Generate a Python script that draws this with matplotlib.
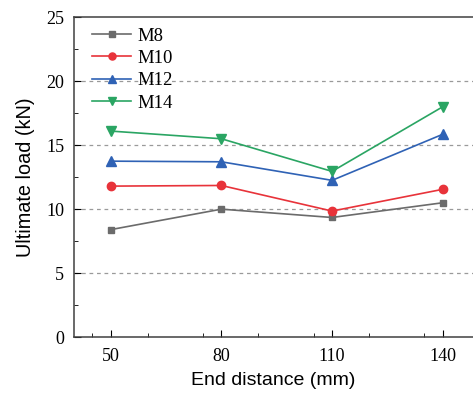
import matplotlib
matplotlib.use("Agg")
import matplotlib.pyplot as plt
from matplotlib.ticker import MultipleLocator

x = [50, 80, 110, 140]
m8 = [8.4, 10.0, 9.35, 10.5]
m10 = [11.8, 11.85, 9.85, 11.55]
m12 = [13.75, 13.7, 12.25, 15.85]
m14 = [16.1, 15.5, 12.95, 18.0]
labels = ["M8", "M10", "M12", "M14"]

fig = plt.figure(figsize=(4.73, 3.99), dpi=100)
ax = fig.add_axes([0.156, 0.155, 0.844, 0.802])

ax.set_xlim(40, 148.2)
ax.set_ylim(0, 25)
for yv in [5, 10, 15, 20]:
    ax.axhline(yv, color="#9a9a9a", lw=0.9, ls=(0, (3, 3)), zorder=0)

styles = [("#6b6b6b", "s", 5), ("#e8333a", "o", 6), ("#2f62b5", "^", 6.5), ("#2aa563", "v", 6.5)]
for data, lab, (c, m, ms) in zip([m8, m10, m12, m14], labels, styles):
    ax.plot(x, data, color=c, marker=m, ms=ms, lw=1.2, label=lab)

ax.set_xticks(x)
ax.xaxis.set_minor_locator(MultipleLocator(15))
ax.yaxis.set_major_locator(MultipleLocator(5))
ax.yaxis.set_minor_locator(MultipleLocator(2.5))
ax.tick_params(which="both", direction="in", right=False, top=False)
ax.tick_params(which="major", length=5)
ax.tick_params(which="minor", length=3)
for lbl in ax.get_xticklabels() + ax.get_yticklabels():
    lbl.set_fontfamily("Liberation Serif")
    lbl.set_fontsize(13)
ax.tick_params(axis="x", pad=8)
ax.tick_params(axis="y", pad=7)
ax.spines["right"].set_visible(False)
for s in ["left", "bottom", "top"]:
    ax.spines[s].set_color("#404040")
    ax.spines[s].set_linewidth(1.1)

ax.set_xlabel("End distance (mm)", fontfamily="Liberation Sans", fontsize=14, labelpad=5)
ax.set_ylabel("Ultimate load (kN)", fontfamily="Liberation Sans", fontsize=14.3, labelpad=8)

ax.legend(loc="upper left", frameon=False, prop={"family": "Liberation Serif", "size": 13.5},
          handlelength=2.1, labelspacing=0.28, borderaxespad=0.15, handletextpad=0.3,
          markerscale=0.85, bbox_to_anchor=(0.02, 1.0))

fig.savefig("out.png", dpi=100)
